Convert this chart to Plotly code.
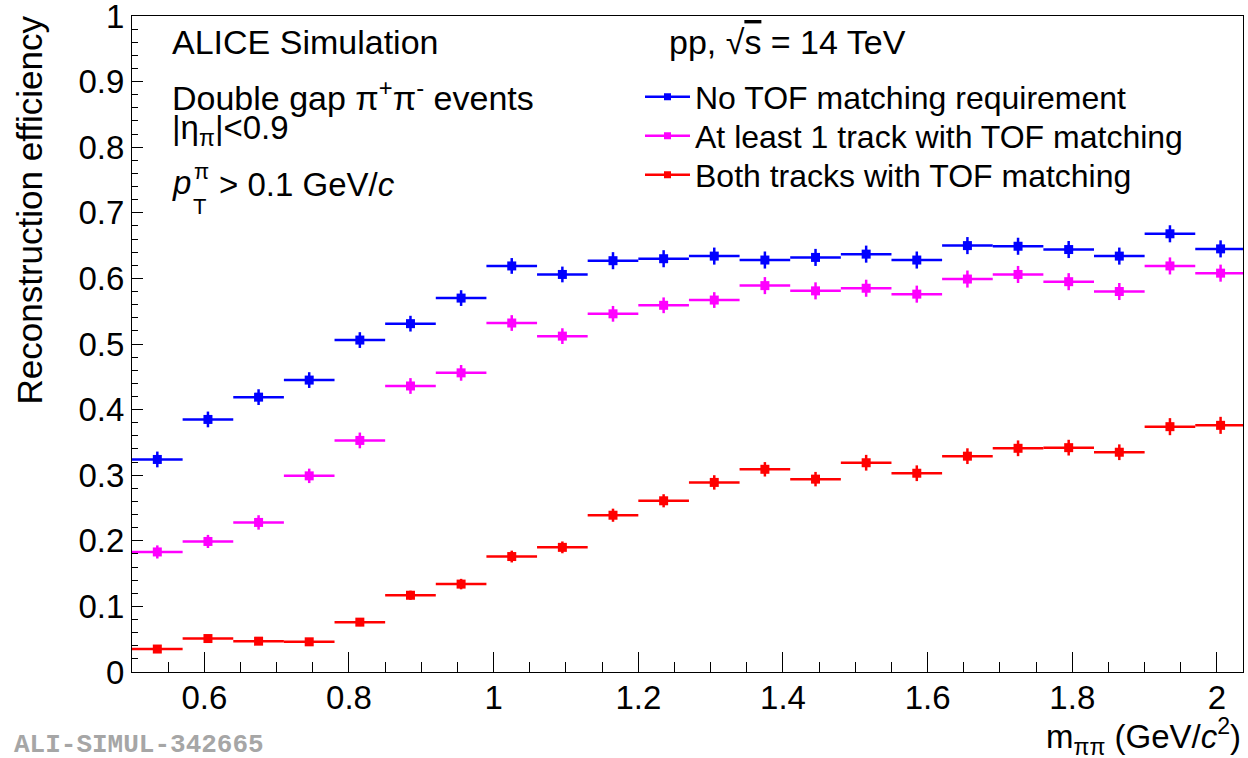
import plotly.graph_objects as go

# ---- data ----
mass_centers = [0.535, 0.605, 0.675, 0.745, 0.815, 0.885, 0.955, 1.025, 1.095, 1.165, 1.235,
                1.305, 1.375, 1.445, 1.515, 1.585, 1.655, 1.725, 1.795, 1.865, 1.935, 2.005]
bin_half_width = 0.035

eff_no_tof = [0.324, 0.385, 0.419, 0.445, 0.506, 0.531, 0.570, 0.619, 0.606, 0.627, 0.630,
              0.634, 0.628, 0.632, 0.637, 0.628, 0.650, 0.649, 0.644, 0.634, 0.668, 0.645]
err_no_tof = [0.012, 0.012, 0.012, 0.012, 0.012, 0.012, 0.012, 0.012, 0.012, 0.013, 0.013,
              0.013, 0.013, 0.013, 0.013, 0.013, 0.013, 0.013, 0.013, 0.013, 0.013, 0.013]

eff_one_tof = [0.183, 0.199, 0.228, 0.299, 0.353, 0.436, 0.456, 0.532, 0.512, 0.546, 0.559,
               0.567, 0.589, 0.581, 0.585, 0.576, 0.599, 0.606, 0.595, 0.580, 0.619, 0.608]
err_one_tof = [0.010, 0.010, 0.011, 0.011, 0.012, 0.012, 0.012, 0.012, 0.012, 0.012, 0.012,
               0.012, 0.013, 0.013, 0.013, 0.013, 0.013, 0.013, 0.013, 0.013, 0.013, 0.013]

eff_both_tof = [0.035, 0.051, 0.047, 0.046, 0.076, 0.117, 0.134, 0.176, 0.190, 0.239, 0.261,
                0.289, 0.309, 0.294, 0.319, 0.303, 0.329, 0.341, 0.342, 0.335, 0.374, 0.376]
err_both_tof = [0.005, 0.005, 0.005, 0.005, 0.006, 0.007, 0.008, 0.009, 0.009, 0.010, 0.010,
                0.011, 0.011, 0.011, 0.012, 0.012, 0.012, 0.012, 0.012, 0.012, 0.013, 0.013]

series_names = ["No TOF matching requirement",
                "At least 1 track with TOF matching",
                "Both tracks with TOF matching"]
series_colors = ["#0000ff", "#ff00ff", "#ff0000"]

y_tick_values = [0.0, 0.1, 0.2, 0.3, 0.4, 0.5, 0.6, 0.7, 0.8, 0.9, 1.0]
y_tick_labels = ["0", "0.1", "0.2", "0.3", "0.4", "0.5", "0.6", "0.7", "0.8", "0.9", "1"]

x_range = [0.5, 2.036]
y_range = [0.0, 1.0]

# ---- layout geometry (pixels) ----
W, H = 1248, 758
L, R, T, B = 132, 5, 16, 86
PW, PH = W - L - R, H - T - B

def px(xp):
    return (xp - L) / PW

def py(yp):
    return (H - B - yp) / PH

FONT = "Liberation Sans, Arial, sans-serif"

fig = go.Figure()

for vals, errs, name, col in zip([eff_no_tof, eff_one_tof, eff_both_tof],
                                 [err_no_tof, err_one_tof, err_both_tof],
                                 series_names, series_colors):
    fig.add_trace(go.Scatter(
        x=mass_centers, y=vals, mode="markers", showlegend=False,
        marker=dict(symbol="square", size=9, color=col),
        error_x=dict(type="constant", value=bin_half_width, color=col, thickness=2.5, width=0),
        error_y=dict(type="data", array=errs, color=col, thickness=2.5, width=0),
    ))

legend_ids = ["legend", "legend2", "legend3"]
legend_rows = [97, 136, 175]
for name, col, lid in zip(series_names, series_colors, legend_ids):
    fig.add_trace(go.Scatter(
        x=[None], y=[None], mode="lines+markers", name=name, legend=lid,
        line=dict(color=col, width=2.5),
        marker=dict(symbol="square", size=7, color=col),
    ))

axis_common = dict(showline=True, linecolor="black", linewidth=1, mirror=True,
                   ticks="inside", tickcolor="black", showgrid=False, zeroline=False,
                   ticklabeloverflow="allow", automargin=False,
                   tickfont=dict(family=FONT, size=33, color="black"))

fig.update_xaxes(range=x_range, dtick=0.2, ticklen=20, tickwidth=1,
                 minor=dict(ticks="inside", dtick=0.05, ticklen=10, tickcolor="black", tickwidth=1),
                 ticklabelstandoff=-4, **axis_common)
fig.update_yaxes(range=y_range, tickmode="array", tickvals=y_tick_values, ticktext=y_tick_labels,
                 ticklen=11, tickwidth=1,
                 minor=dict(ticks="inside", dtick=0.02, tick0=0, ticklen=6, tickcolor="black", tickwidth=1),
                 ticklabelstandoff=0, **axis_common)

def txt(text, xp, yp, size=32, xanchor="left", yanchor="middle", color="black", family=FONT, angle=0):
    fig.add_annotation(text=text, x=px(xp), y=py(yp), xref="paper", yref="paper",
                       xanchor=xanchor, yanchor=yanchor, showarrow=False, textangle=angle,
                       font=dict(family=family, size=size, color=color))

txt("ALICE Simulation", 170, 42, size=34)
txt("Double gap π<sup>+</sup>π<sup>-</sup> events", 170, 95, size=34)
txt("|η<sub>π</sub>|<0.9", 170, 130, size=33)
txt("<i>p</i>", 170, 183, size=33)
txt("π", 192, 171, size=22)
txt("T", 191, 206, size=22)
txt("> 0.1 GeV/<i>c</i>", 217, 185, size=33)
txt("pp, √<span style='text-decoration:overline'>s</span> = 14 TeV", 667, 42, size=34)

txt("Reconstruction efficiency", 29, 14, size=35, angle=-90, xanchor="center", yanchor="top")
txt("m<sub>ππ</sub> (GeV/<i>c</i><sup>2</sup>)", 1243, 736, size=33, xanchor="right")
txt("<b>ALI-SIMUL-342665</b>", 12, 745, size=26, color="#a6a6a6",
    family="Liberation Mono, Courier New, monospace")

legend_style = dict(xanchor="left", yanchor="middle", bgcolor="rgba(0,0,0,0)",
                    font=dict(family=FONT, size=32, color="black"), itemwidth=45)

fig.update_layout(
    width=W, height=H,
    margin=dict(l=L, r=R, t=T, b=B, autoexpand=False),
    paper_bgcolor="white", plot_bgcolor="white",
    legend=dict(x=px(640), y=py(legend_rows[0]), **legend_style),
    legend2=dict(x=px(640), y=py(legend_rows[1]), **legend_style),
    legend3=dict(x=px(640), y=py(legend_rows[2]), **legend_style),
)

fig.write_html("out.html")
